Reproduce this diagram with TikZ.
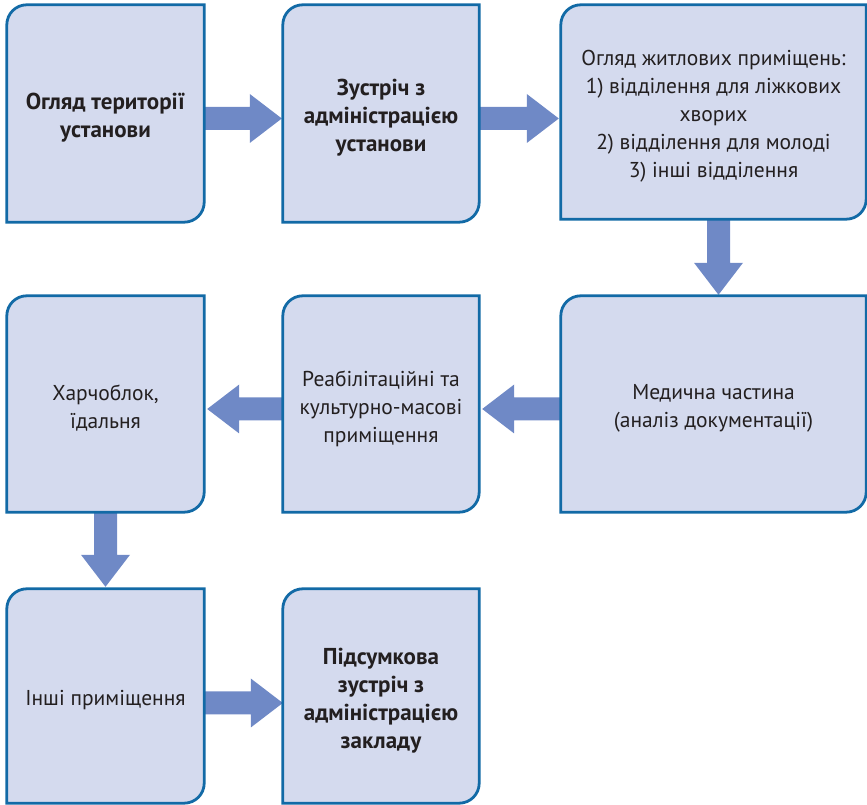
\documentclass[tikz,border=0pt]{standalone}
\usepackage{fontspec}
\setmainfont{PT Sans}
\usetikzlibrary{calc}
\definecolor{boxfill}{RGB}{212,218,238}
\definecolor{boxedge}{RGB}{18,106,166}
\definecolor{arrowc}{RGB}{111,137,198}
\definecolor{txt}{RGB}{35,31,32}
\pgfdeclarelayer{arrowlayer}
\pgfdeclarelayer{boxlayer}
\pgfsetlayers{arrowlayer,boxlayer,main}
\tikzset{
  boxtext/.style={inner sep=0pt, align=center, text=txt, font=\fontsize{21.5}{28}\selectfont},
  boldtext/.style={boxtext, font=\fontsize{23}{28}\selectfont\bfseries},
  boxline/.style={draw=boxedge, fill=boxfill, line width=2.8pt},
  arr/.style={fill=arrowc},
  boxshape/.style={inner sep=0pt}
}
% name, x1, ytop, x2, ybot (image px, y down), style, text
\newcommand\pbox[7]{%
  \node[boxshape, minimum width={(#4-#2)*1pt}, minimum height={(#5-#3)*1pt}]
    (#1) at ({(#2+#4)/2}, {805-(#3+#5)/2}) {};
  \node[#6] (#1t) at ([yshift=-4.5pt]#1.center) {#7};
  \begin{pgfonlayer}{boxlayer}
  \draw[boxline] (#1.south west) -- ([yshift=-20pt]#1.north west)
     arc[start angle=180, end angle=90, radius=20pt] -- (#1.north east)
     -- ([yshift=20pt]#1.south east)
     arc[start angle=0, end angle=-90, radius=20pt] -- cycle;
  \end{pgfonlayer}}
% right arrow: from, to, y(img), gap
\newcommand\rarr[4]{%
  \begin{pgfonlayer}{arrowlayer}
  \fill[arr] let \p1=(#1.east), \p2=(#2.west) in
    (\x1,{(805-#3+11.5)*1pt}) -- ({\x2-(#4+32)*1pt},{(805-#3+11.5)*1pt})
    -- ({\x2-(#4+32)*1pt},{(805-#3+24.5)*1pt}) -- ({\x2-#4*1pt},{(805-#3)*1pt})
    -- ({\x2-(#4+32)*1pt},{(805-#3-24.5)*1pt}) -- ({\x2-(#4+32)*1pt},{(805-#3-11.5)*1pt})
    -- (\x1,{(805-#3-11.5)*1pt}) -- cycle;
  \end{pgfonlayer}}
% left arrow: from, to, y(img), gap
\newcommand\larr[4]{%
  \begin{pgfonlayer}{arrowlayer}
  \fill[arr] let \p1=(#1.west), \p2=(#2.east) in
    (\x1,{(805-#3+11.5)*1pt}) -- ({\x2+(#4+32)*1pt},{(805-#3+11.5)*1pt})
    -- ({\x2+(#4+32)*1pt},{(805-#3+24.5)*1pt}) -- ({\x2+#4*1pt},{(805-#3)*1pt})
    -- ({\x2+(#4+32)*1pt},{(805-#3-24.5)*1pt}) -- ({\x2+(#4+32)*1pt},{(805-#3-11.5)*1pt})
    -- (\x1,{(805-#3-11.5)*1pt}) -- cycle;
  \end{pgfonlayer}}
% down arrow: from, to, x(img), gap
\newcommand\darr[4]{%
  \begin{pgfonlayer}{arrowlayer}
  \fill[arr] let \p1=(#1.south), \p2=(#2.north) in
    ({(#3-11.5)*1pt},\y1) -- ({(#3-11.5)*1pt},{\y2+(#4+32)*1pt})
    -- ({(#3-24.5)*1pt},{\y2+(#4+32)*1pt}) -- ({#3*1pt},{\y2+#4*1pt})
    -- ({(#3+24.5)*1pt},{\y2+(#4+32)*1pt}) -- ({(#3+11.5)*1pt},{\y2+(#4+32)*1pt})
    -- ({(#3+11.5)*1pt},\y1) -- cycle;
  \end{pgfonlayer}}
\begin{document}
\begin{tikzpicture}[x=1pt, y=1pt]
\useasboundingbox (0,0) rectangle (867,805);
\pbox{b1}{7}{5}{204}{222}{boldtext}{Огляд території\\установи}
\pbox{b2}{283}{5}{479}{222}{boldtext}{Зустріч з\\адміністрацією\\установи}
\pbox{b3}{561}{5}{866}{219}{boxtext}{Огляд житлових приміщень:\\1) відділення для ліжкових\\хворих\\2) відділення для молоді\\3) інші відділення}
\pbox{b4}{7}{296}{204}{512}{boxtext}{Харчоблок,\\їдальня}
\pbox{b5}{283}{296}{479}{512}{boxtext}{Реабілітаційні та\\культурно-масові\\приміщення}
\pbox{b6}{561}{296}{866}{512}{boxtext}{Медична частина\\(аналіз документації)}
\pbox{b7}{7}{589}{204}{803}{boxtext}{Інші приміщення}
\pbox{b8}{283}{589}{479}{803}{boldtext}{Підсумкова\\зустріч з\\адміністрацією\\закладу}
\rarr{b1}{b2}{118.5}{1}
\rarr{b2}{b3}{118.5}{2}
\darr{b3}{b6}{718.5}{1}
\larr{b6}{b5}{409}{3}
\larr{b5}{b4}{409}{3}
\darr{b4}{b7}{105.5}{2}
\rarr{b7}{b8}{703}{0}
\end{tikzpicture}
\end{document}
